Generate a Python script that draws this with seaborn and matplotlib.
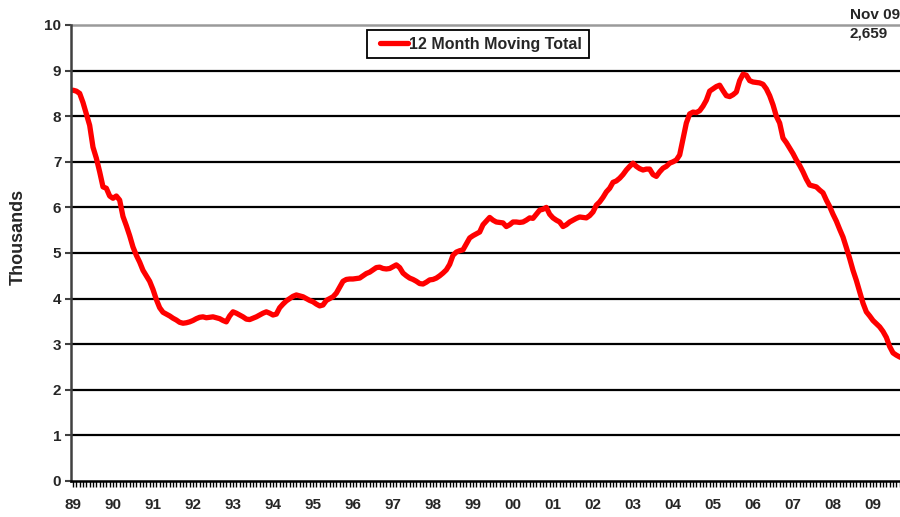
import matplotlib
matplotlib.use("Agg")
import matplotlib.pyplot as plt
from matplotlib.ticker import FixedLocator, MultipleLocator
from matplotlib.patches import Rectangle
import numpy as np
import pandas as pd
import seaborn as sns

# ---- data (12 month moving total, thousands), Jan 1989 .. Nov 2009 ----
y1989 = [8.57, 8.55, 8.50, 8.30, 8.05, 7.80, 7.32, 7.08, 6.78, 6.45, 6.42, 6.25]
y1990 = [6.20, 6.25, 6.16, 5.80, 5.60, 5.38, 5.13, 4.95, 4.80, 4.62, 4.50, 4.38]
y1991 = [4.20, 3.98, 3.80, 3.70, 3.66, 3.62, 3.57, 3.53, 3.48, 3.46, 3.47, 3.49]
y1992 = [3.52, 3.56, 3.59, 3.60, 3.58, 3.59, 3.60, 3.58, 3.56, 3.52, 3.49, 3.62]
y1993 = [3.71, 3.68, 3.64, 3.60, 3.55, 3.54, 3.57, 3.60, 3.64, 3.68, 3.71, 3.68]
y1994 = [3.64, 3.66, 3.80, 3.88, 3.95, 4.00, 4.05, 4.08, 4.06, 4.04, 4.00, 3.96]
y1995 = [3.93, 3.88, 3.84, 3.86, 3.96, 4.00, 4.04, 4.12, 4.25, 4.38, 4.42, 4.43]
y1996 = [4.43, 4.44, 4.45, 4.50, 4.55, 4.58, 4.63, 4.68, 4.69, 4.66, 4.65, 4.66]
y1997 = [4.70, 4.74, 4.68, 4.56, 4.50, 4.45, 4.42, 4.38, 4.33, 4.32, 4.36, 4.41]
y1998 = [4.42, 4.45, 4.50, 4.56, 4.63, 4.75, 4.95, 5.02, 5.05, 5.07, 5.20, 5.33]
y1999 = [5.38, 5.42, 5.46, 5.62, 5.70, 5.78, 5.72, 5.68, 5.67, 5.66, 5.58, 5.62]
y2000 = [5.68, 5.68, 5.67, 5.68, 5.72, 5.77, 5.76, 5.85, 5.94, 5.96, 6.00, 5.85]
y2001 = [5.77, 5.72, 5.68, 5.58, 5.62, 5.68, 5.72, 5.76, 5.79, 5.78, 5.77, 5.82]
y2002 = [5.90, 6.05, 6.12, 6.22, 6.34, 6.42, 6.55, 6.58, 6.64, 6.72, 6.82, 6.90]
y2003 = [6.97, 6.90, 6.85, 6.82, 6.84, 6.84, 6.72, 6.68, 6.78, 6.86, 6.90, 6.97]
y2004 = [7.00, 7.04, 7.15, 7.50, 7.85, 8.05, 8.09, 8.08, 8.12, 8.22, 8.35, 8.55]
y2005 = [8.60, 8.65, 8.68, 8.56, 8.45, 8.43, 8.47, 8.53, 8.78, 8.92, 8.90, 8.78]
y2006 = [8.75, 8.74, 8.73, 8.70, 8.60, 8.45, 8.25, 8.00, 7.85, 7.52, 7.42, 7.30]
y2007 = [7.18, 7.04, 6.92, 6.78, 6.62, 6.49, 6.47, 6.45, 6.38, 6.32, 6.16, 6.02]
y2008 = [5.85, 5.70, 5.52, 5.35, 5.12, 4.88, 4.62, 4.40, 4.15, 3.90, 3.71, 3.62]
y2009 = [3.52, 3.45, 3.38, 3.28, 3.15, 2.95, 2.81, 2.76, 2.72, 2.69, 2.66]

year_labels = ["89", "90", "91", "92", "93", "94", "95", "96", "97", "98", "99",
               "00", "01", "02", "03", "04", "05", "06", "07", "08", "09"]
y_ticks = [0, 1, 2, 3, 4, 5, 6, 7, 8, 9, 10]
series_name = "12 Month Moving Total"
last_label = "Nov 09"
last_value = "2,659"

values = (y1989 + y1990 + y1991 + y1992 + y1993 + y1994 + y1995 + y1996 + y1997
          + y1998 + y1999 + y2000 + y2001 + y2002 + y2003 + y2004 + y2005 + y2006
          + y2007 + y2008 + y2009)
df = pd.DataFrame({"month": np.arange(len(values)), "value": values})

# ---- figure ----
sns.set_style("white")
plt.rcParams["font.family"] = ["Liberation Sans", "DejaVu Sans"]
plt.rcParams["font.weight"] = "bold"

fig = plt.figure(figsize=(9.0, 5.17), dpi=100)
ax = fig.add_axes([71 / 900, 36 / 517, 829 / 900, 456 / 517])

sns.lineplot(data=df, x="month", y="value", color="#ff0000", linewidth=3.8,
             label=series_name, ax=ax, legend=True)

ax.set_xlim(-0.6, 248.1)
ax.set_ylim(0, 10)

# gridlines
for v in y_ticks[1:-1]:
    ax.axhline(v, color="black", lw=1.6, zorder=1)
ax.axhline(10, color="#9a9a9a", lw=1.8, zorder=1, clip_on=False)

for s in ["top", "right"]:
    ax.spines[s].set_visible(False)
ax.spines["left"].set_color("#404040")
ax.spines["left"].set_linewidth(1.8)
ax.spines["bottom"].set_color("black")
ax.spines["bottom"].set_linewidth(1.8)

ax.yaxis.set_major_locator(FixedLocator(y_ticks))
ax.set_yticklabels([str(t) for t in y_ticks], fontsize=11, fontweight="bold")
ax.tick_params(axis="y", which="major", direction="out", length=4, width=1.5,
               color="#404040", pad=3, left=True)

ax.xaxis.set_major_locator(FixedLocator(np.arange(len(year_labels)) * 12))
ax.set_xticklabels(year_labels, fontsize=11, fontweight="bold")
ax.xaxis.set_minor_locator(MultipleLocator(1))
ax.tick_params(axis="x", which="both", direction="out", length=4, width=1.0,
               color="black", pad=8, bottom=True)

ax.set_xlabel("")
ax.set_ylabel("Thousands", fontsize=13, fontweight="bold")
ax.yaxis.set_label_coords((27 - 71) / 829, (481 - 237) / 456)

leg = ax.legend(loc="center left", bbox_to_anchor=(380 / 900, 1 - 44 / 517),
                bbox_transform=fig.transFigure, frameon=False,
                fontsize=11.5, handlelength=1.74, handletextpad=0.05,
                borderpad=0, borderaxespad=0)
for t in leg.get_texts():
    t.set_fontweight("bold")
ax.add_patch(Rectangle((367 / 900, 1 - 58 / 517), 222 / 900, 28 / 517,
                       transform=fig.transFigure, fill=False,
                       edgecolor="black", lw=1.3, clip_on=False))

fig.text(850 / 900, 1 - 15 / 517, last_label, fontsize=11, fontweight="bold",
         ha="left", va="center")
fig.text(850 / 900, 1 - 34 / 517, last_value, fontsize=11, fontweight="bold",
         ha="left", va="center")

fig.savefig("out.png", dpi=100)
